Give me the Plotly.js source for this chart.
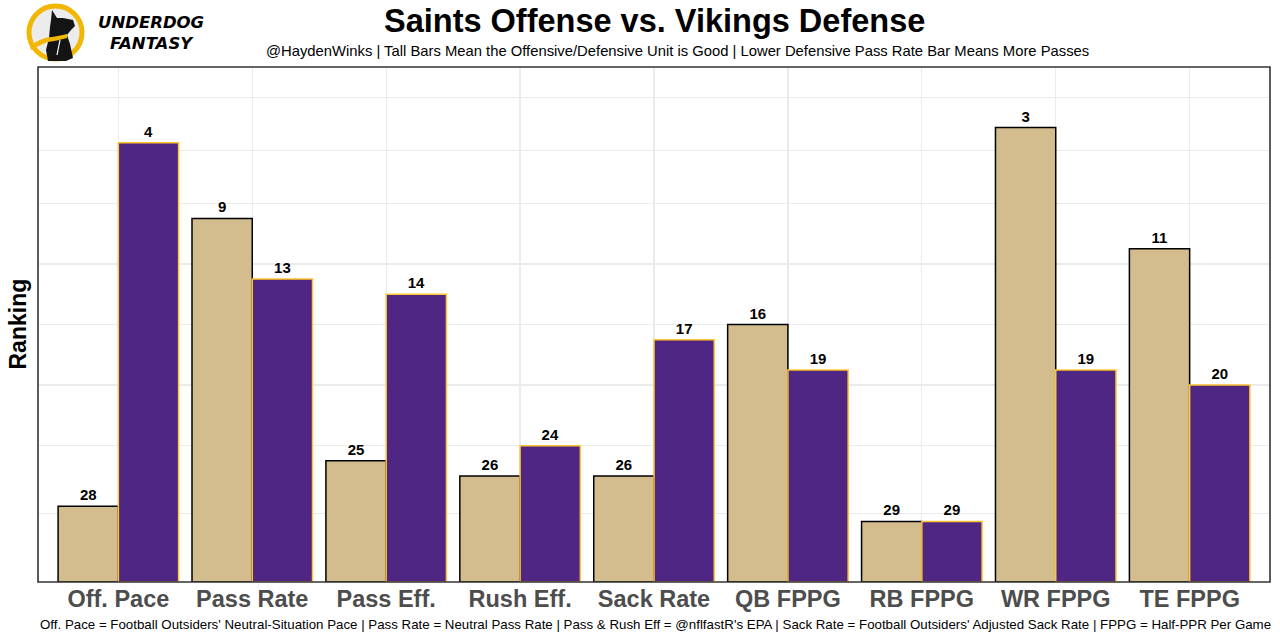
<!DOCTYPE html>
<html>
<head>
<meta charset="utf-8">
<script src="https://cdn.plot.ly/plotly-3.0.1.min.js"></script>
<style>html,body{margin:0;padding:0;background:#fff;}#chart{width:1280px;height:640px;}</style>
</head>
<body>
<div id="chart"></div>
<script>
// ---- data ----
const categories = ["Off. Pace", "Pass Rate", "Pass Eff.", "Rush Eff.", "Sack Rate", "QB FPPG", "RB FPPG", "WR FPPG", "TE FPPG"];
const saintsOffenseRank = [28, 9, 25, 26, 26, 16, 29, 3, 11];
const vikingsDefenseRank = [4, 13, 14, 24, 17, 19, 29, 19, 20];
const maxRank = 32;
const gridVals = [4.5, 9, 13, 17, 21, 25, 28.5, 32];

const toHeight = r => maxRank + 1 - r;

const FONT = "Liberation Sans, Arial, Helvetica, sans-serif";

const saints = {
  type: "bar", name: "Saints Offense",
  x: categories, y: saintsOffenseRank.map(toHeight),
  text: saintsOffenseRank.map(String),
  textposition: "outside", constraintext: "none", cliponaxis: false,
  textfont: {family: FONT, size: 15, color: "#000", weight: "bold"},
  marker: {color: "#D3BC8D", line: {color: "#000000", width: 1.5}},
  hoverinfo: "skip"
};
const vikings = {
  type: "bar", name: "Vikings Defense",
  x: categories, y: vikingsDefenseRank.map(toHeight),
  text: vikingsDefenseRank.map(String),
  textposition: "outside", constraintext: "none", cliponaxis: false,
  textfont: {family: FONT, size: 15, color: "#000", weight: "bold"},
  marker: {color: "#4F2683", line: {color: "#FFC62F", width: 1.5}},
  hoverinfo: "skip"
};

const logoSvg = `<svg xmlns="http://www.w3.org/2000/svg" viewBox="25 2 62 62" width="62" height="62">
<circle cx="55.5" cy="32.5" r="26.5" fill="#ececec" stroke="#F2B705" stroke-width="5"/>
<path d="M52,10 L57,18 L63,18 L73,20 L75,26 L71,30 L67,35 L70,44 L73,58 L66,61 L48,61 L46,50 L49,38 L50,27 L51,20 Z" fill="#141414"/>
<path d="M30,46 C38,40 46,37 52,37 C58,36 63,35 67,34 L67,38 C60,40 54,41 48,42 C42,44 36,47 31,50 Z" fill="#F2B705"/>
<path d="M60,40 L57,55" stroke="#fff" stroke-width="1.2" fill="none"/>
</svg>`;
const logoUri = "data:image/svg+xml;base64," + btoa(logoSvg);

// pixel helpers for paper coordinates
const L = 38, R = 10, T = 67, B = 58, W = 1280, H = 640;
const pw = W - L - R, ph = H - T - B;
const px = x => (x - L) / pw;
const py = y => (H - B - y) / ph;

const layout = {
  width: W, height: H,
  margin: {l: L, r: R, t: T, b: B, pad: 0},
  paper_bgcolor: "#fff", plot_bgcolor: "#fff",
  showlegend: false,
  barmode: "group", bargap: 0.1, bargroupgap: 0,
  font: {family: FONT, color: "#000"},
  xaxis: {
    type: "category", range: [-0.6, 8.6],
    showgrid: true, gridcolor: "#ebebeb", gridwidth: 1.2,
    ticks: "", zeroline: false, showline: false,
    tickfont: {family: FONT, size: 23.5, color: "#4D4D4D", weight: "bold"},
    fixedrange: true
  },
  yaxis: {
    range: [0, 34], tickvals: gridVals, showticklabels: false,
    showgrid: true, gridcolor: "#ebebeb", gridwidth: 1.2,
    ticks: "", zeroline: false, showline: false, fixedrange: true
  },
  shapes: [
    {type: "rect", xref: "paper", yref: "paper", x0: 0, x1: 1, y0: 0, y1: 1,
     line: {color: "#333333", width: 1.6}, layer: "above"}
  ],
  images: [
    {source: logoUri, xref: "paper", yref: "paper", x: px(25), y: py(2),
     sizex: 62 / pw, sizey: 62 / ph, xanchor: "left", yanchor: "top", sizing: "stretch", layer: "above"}
  ],
  annotations: [
    {text: "Saints Offense vs. Vikings Defense", xref: "paper", yref: "paper", x: 0.5, y: py(21),
     xanchor: "center", yanchor: "middle", showarrow: false,
     font: {family: FONT, size: 32.5, color: "#000", weight: "bold"}},
    {text: "@HaydenWinks | Tall Bars Mean the Offensive/Defensive Unit is Good | Lower Defensive Pass Rate Bar Means More Passes",
     xref: "paper", yref: "paper", x: px(678), y: py(51), xanchor: "center", yanchor: "middle", showarrow: false,
     font: {family: FONT, size: 14.8, color: "#000"}},
    {text: "Off. Pace = Football Outsiders' Neutral-Situation Pace | Pass Rate = Neutral Pass Rate | Pass & Rush Eff = @nflfastR's EPA | Sack Rate = Football Outsiders' Adjusted Sack Rate | FPPG = Half-PPR Per Game",
     xref: "paper", yref: "paper", x: px(655), y: py(624), xanchor: "center", yanchor: "middle", showarrow: false,
     font: {family: FONT, size: 13.3, color: "#000"}},
    {text: "Ranking", xref: "paper", yref: "paper", x: px(17), y: 0.5, xanchor: "center", yanchor: "middle",
     textangle: -90, showarrow: false, font: {family: FONT, size: 23, color: "#000", weight: "bold"}},
    {text: "UNDERDOG<br>FANTASY", xref: "paper", yref: "paper", x: px(151), y: py(33.5), xanchor: "center", yanchor: "middle",
     align: "center", showarrow: false,
     font: {family: "DejaVu Sans, Roboto, sans-serif", size: 16.5, color: "#000", weight: "bold", style: "italic"}}
  ]
};

Plotly.newPlot("chart", [saints, vikings], layout, {displayModeBar: false, staticPlot: true});
</script>
</body>
</html>
